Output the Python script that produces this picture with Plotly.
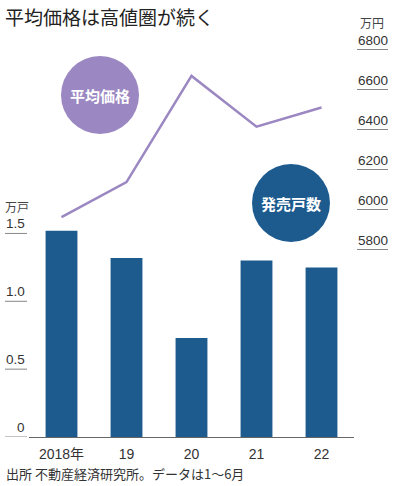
import plotly.graph_objects as go

# Data
years = ["2018年", "19", "20", "21", "22"]
units = [1.52, 1.32, 0.73, 1.30, 1.25]          # 発売戸数（万戸）
price = [5962, 6137, 6668, 6414, 6510]          # 平均価格（万円）
left_ticks = [0, 0.5, 1.0, 1.5]
left_labels = ["0", "0.5", "1.0", "1.5"]
right_ticks = [5800, 6000, 6200, 6400, 6600, 6800]
right_labels = ["5800", "6000", "6200", "6400", "6600", "6800"]

W, H = 393, 486
ML, MR, MT, MB = 29, 39, 49, 49
PW, PH = W - ML - MR, H - MT - MB

def px(x):
    return (x - ML) / PW

def py(y):
    return (H - MB - y) / PH

BLUE = "#1d5b8f"
PURPLE = "#9b87c1"
FONT = "Noto Sans CJK JP"
NUMFONT = "Liberation Sans, Noto Sans CJK JP"

fig = go.Figure()
fig.add_trace(go.Bar(x=years, y=units, marker=dict(color=BLUE, line=dict(width=0)),
                     yaxis="y", hoverinfo="skip"))
fig.add_trace(go.Scatter(x=years, y=price, mode="lines", yaxis="y2",
                         line=dict(color=PURPLE, width=2.5), hoverinfo="skip"))

shapes = []
annotations = []
for v, t in zip(left_ticks, left_labels):
    shapes.append(dict(type="line", xref="paper", yref="y", x0=px(5), x1=px(27), y0=v, y1=v,
                       line=dict(color="#888888", width=1)))
    annotations.append(dict(xref="paper", yref="y", x=px(26), y=v, text=t, showarrow=False,
                            xanchor="right", yanchor="bottom", borderpad=0, yshift=1,
                            font=dict(size=13.5, color="#333333", family=NUMFONT)))
for v, t in zip(right_ticks, right_labels):
    shapes.append(dict(type="line", xref="paper", yref="y2", x0=px(357), x1=px(388), y0=v, y1=v,
                       line=dict(color="#888888", width=1)))
    annotations.append(dict(xref="paper", yref="y2", x=px(372.5), y=v, text=t, showarrow=False,
                            xanchor="center", yanchor="bottom", borderpad=0, yshift=1,
                            font=dict(size=13.5, color="#333333", family=NUMFONT)))

# decorative circles
shapes.append(dict(type="circle", xref="paper", yref="paper", x0=px(61), x1=px(139), y0=py(134), y1=py(56),
                   fillcolor=PURPLE, line=dict(width=0), layer="below"))
shapes.append(dict(type="circle", xref="paper", yref="paper", x0=px(252), x1=px(330), y0=py(242), y1=py(164),
                   fillcolor=BLUE, line=dict(width=0), layer="below"))
annotations.append(dict(xref="paper", yref="paper", x=px(100), y=py(95), text="<b>平均価格</b>", showarrow=False,
                        xanchor="center", yanchor="middle",
                        font=dict(size=15, color="white", family=FONT)))
annotations.append(dict(xref="paper", yref="paper", x=px(291), y=py(203), text="<b>発売戸数</b>", showarrow=False,
                        xanchor="center", yanchor="middle",
                        font=dict(size=15, color="white", family=FONT)))

# titles / units / source
annotations.append(dict(xref="paper", yref="paper", x=px(3), y=py(16), text="平均価格は高値圏が続く", showarrow=False,
                        xanchor="left", yanchor="middle", font=dict(size=19, color="#222222", family=FONT)))
annotations.append(dict(xref="paper", yref="paper", x=px(4), y=py(206), text="万戸", showarrow=False,
                        xanchor="left", yanchor="middle", borderpad=0,
                        font=dict(size=12, color="#444444", family=FONT)))
annotations.append(dict(xref="paper", yref="paper", x=px(359), y=py(22), text="万円", showarrow=False,
                        xanchor="left", yanchor="middle", borderpad=0,
                        font=dict(size=12, color="#444444", family=FONT)))
annotations.append(dict(xref="paper", yref="paper", x=px(4), y=py(473), text="出所 不動産経済研究所。データは1～6月",
                        showarrow=False, xanchor="left", yanchor="middle",
                        font=dict(size=13, color="#333333", family=FONT)))

fig.update_layout(
    width=W, height=H,
    margin=dict(l=ML, r=MR, t=MT, b=MB, autoexpand=False),
    paper_bgcolor="white", plot_bgcolor="white",
    showlegend=False,
    bargap=0.51,
    font=dict(family=FONT, color="#333333"),
    xaxis=dict(type="category", showline=True, linecolor="#666666", linewidth=1,
               showgrid=False, ticks="outside", ticklen=4, tickcolor="rgba(0,0,0,0)",
               tickfont=dict(size=14, color="#333333", family=NUMFONT),
               fixedrange=True),
    yaxis=dict(range=[0, PH / 135.7], showgrid=False, showticklabels=False, zeroline=False,
               fixedrange=True),
    yaxis2=dict(range=[6800 - (PH - 0.5) * 5, 6800 + 0.5 * 5], overlaying="y", side="right",
                showgrid=False, showticklabels=False, zeroline=False, fixedrange=True),
    shapes=shapes,
    annotations=annotations,
)

fig.write_html("out.html", config={"displayModeBar": False},
               post_script="document.body.style.margin='0';")
